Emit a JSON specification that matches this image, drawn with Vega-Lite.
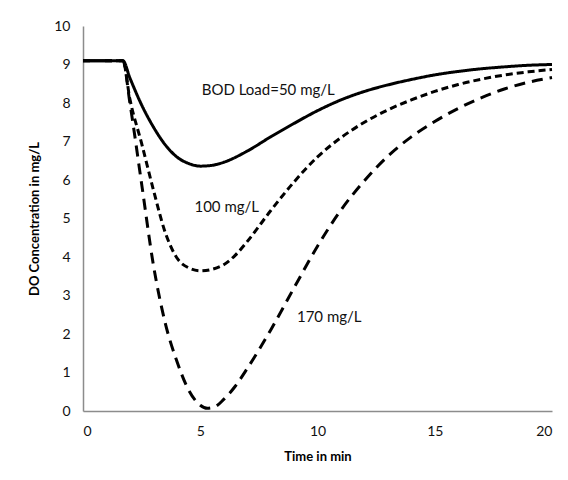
{
  "$schema": "https://vega.github.io/schema/vega-lite/v6.json",
  "width": 469,
  "height": 385,
  "autosize": "none",
  "padding": {"left": 83, "top": 26, "right": 16, "bottom": 69},
  "background": "white",
  "config": {
    "view": {"stroke": null},
    "font": "Lato",
    "axis": {
      "grid": false,
      "ticks": false,
      "domainColor": "#8c8c8c",
      "domainWidth": 1.5,
      "labelFont": "Lato",
      "labelFontSize": 14,
      "labelColor": "#111",
      "labelOverlap": false,
      "titleFont": "Lato",
      "titleFontSize": 13,
      "titleFontWeight": "bold",
      "titleColor": "#000"
    }
  },
  "datasets": {
    "curves": [
      {"t": 0, "do": 9.1, "load": "50"},
      {"t": 1.7, "do": 9.1, "load": "50"},
      {"t": 2.0, "do": 8.65, "load": "50"},
      {"t": 2.5, "do": 7.95, "load": "50"},
      {"t": 3.0, "do": 7.38, "load": "50"},
      {"t": 3.5, "do": 6.92, "load": "50"},
      {"t": 4.0, "do": 6.6, "load": "50"},
      {"t": 4.5, "do": 6.43, "load": "50"},
      {"t": 5.0, "do": 6.36, "load": "50"},
      {"t": 5.5, "do": 6.38, "load": "50"},
      {"t": 6.0, "do": 6.46, "load": "50"},
      {"t": 7.0, "do": 6.75, "load": "50"},
      {"t": 8.0, "do": 7.12, "load": "50"},
      {"t": 9.0, "do": 7.47, "load": "50"},
      {"t": 10.0, "do": 7.8, "load": "50"},
      {"t": 11.0, "do": 8.08, "load": "50"},
      {"t": 12.0, "do": 8.3, "load": "50"},
      {"t": 13.0, "do": 8.47, "load": "50"},
      {"t": 14.0, "do": 8.61, "load": "50"},
      {"t": 15.0, "do": 8.73, "load": "50"},
      {"t": 16.0, "do": 8.82, "load": "50"},
      {"t": 17.0, "do": 8.89, "load": "50"},
      {"t": 18.0, "do": 8.94, "load": "50"},
      {"t": 19.0, "do": 8.98, "load": "50"},
      {"t": 20.0, "do": 9.0, "load": "50"},

      {"t": 0, "do": 9.1, "load": "100"},
      {"t": 1.7, "do": 9.1, "load": "100"},
      {"t": 2.0, "do": 8.1, "load": "100"},
      {"t": 2.5, "do": 6.95, "load": "100"},
      {"t": 3.0, "do": 5.75, "load": "100"},
      {"t": 3.5, "do": 4.65, "load": "100"},
      {"t": 4.0, "do": 3.98, "load": "100"},
      {"t": 4.5, "do": 3.72, "load": "100"},
      {"t": 5.0, "do": 3.64, "load": "100"},
      {"t": 5.5, "do": 3.68, "load": "100"},
      {"t": 6.0, "do": 3.8, "load": "100"},
      {"t": 6.5, "do": 4.05, "load": "100"},
      {"t": 7.0, "do": 4.4, "load": "100"},
      {"t": 8.0, "do": 5.2, "load": "100"},
      {"t": 9.0, "do": 5.95, "load": "100"},
      {"t": 10.0, "do": 6.6, "load": "100"},
      {"t": 11.0, "do": 7.1, "load": "100"},
      {"t": 12.0, "do": 7.5, "load": "100"},
      {"t": 13.0, "do": 7.82, "load": "100"},
      {"t": 14.0, "do": 8.08, "load": "100"},
      {"t": 15.0, "do": 8.3, "load": "100"},
      {"t": 16.0, "do": 8.48, "load": "100"},
      {"t": 17.0, "do": 8.62, "load": "100"},
      {"t": 18.0, "do": 8.73, "load": "100"},
      {"t": 19.0, "do": 8.81, "load": "100"},
      {"t": 20.0, "do": 8.87, "load": "100"},

      {"t": 0, "do": 9.1, "load": "170"},
      {"t": 1.7, "do": 9.1, "load": "170"},
      {"t": 2.0, "do": 8.0, "load": "170"},
      {"t": 2.5, "do": 5.9, "load": "170"},
      {"t": 3.0, "do": 3.8, "load": "170"},
      {"t": 3.5, "do": 2.3, "load": "170"},
      {"t": 4.0, "do": 1.3, "load": "170"},
      {"t": 4.5, "do": 0.55, "load": "170"},
      {"t": 5.0, "do": 0.15, "load": "170"},
      {"t": 5.3, "do": 0.07, "load": "170"},
      {"t": 5.6, "do": 0.1, "load": "170"},
      {"t": 6.0, "do": 0.3, "load": "170"},
      {"t": 6.5, "do": 0.65, "load": "170"},
      {"t": 7.0, "do": 1.1, "load": "170"},
      {"t": 8.0, "do": 2.1, "load": "170"},
      {"t": 9.0, "do": 3.2, "load": "170"},
      {"t": 10.0, "do": 4.28, "load": "170"},
      {"t": 11.0, "do": 5.22, "load": "170"},
      {"t": 12.0, "do": 5.98, "load": "170"},
      {"t": 13.0, "do": 6.62, "load": "170"},
      {"t": 14.0, "do": 7.12, "load": "170"},
      {"t": 15.0, "do": 7.52, "load": "170"},
      {"t": 16.0, "do": 7.86, "load": "170"},
      {"t": 17.0, "do": 8.14, "load": "170"},
      {"t": 18.0, "do": 8.37, "load": "170"},
      {"t": 19.0, "do": 8.54, "load": "170"},
      {"t": 20.0, "do": 8.66, "load": "170"}
    ],
    "labels": [
      {"t": 7.9, "do": 8.35, "text": "BOD Load=50 mg/L"},
      {"t": 6.13, "do": 5.29, "text": "100 mg/L"},
      {"t": 10.5, "do": 2.45, "text": "170 mg/L"}
    ]
  },
  "encoding": {
    "x": {
      "field": "t", "type": "quantitative",
      "scale": {"domain": [0, 20], "nice": false},
      "axis": {"title": "Time in min", "values": [0, 5, 10, 15, 20], "labelPadding": 13, "titlePadding": 12}
    },
    "y": {
      "field": "do", "type": "quantitative",
      "scale": {"domain": [0, 10], "nice": false},
      "axis": {"title": "DO Concentration in mg/L", "values": [0,1,2,3,4,5,6,7,8,9,10], "labelOverlap": false, "labelPadding": 13, "titlePadding": 12}
    }
  },
  "layer": [
    {
      "data": {"name": "curves"},
      "mark": {"type": "line", "interpolate": "monotone", "strokeWidth": 3, "color": "black", "strokeCap": "butt"},
      "encoding": {
        "detail": {"field": "load"},
        "strokeDash": {
          "field": "load", "type": "nominal",
          "scale": {"domain": ["50", "100", "170"], "range": [[1, 0], [7, 4], [11, 7]]},
          "legend": null
        }
      }
    },
    {
      "data": {"name": "labels"},
      "mark": {"type": "text", "font": "Lato", "fontSize": 15, "color": "#111"},
      "encoding": {
        "text": {"field": "text"}
      }
    }
  ]
}
